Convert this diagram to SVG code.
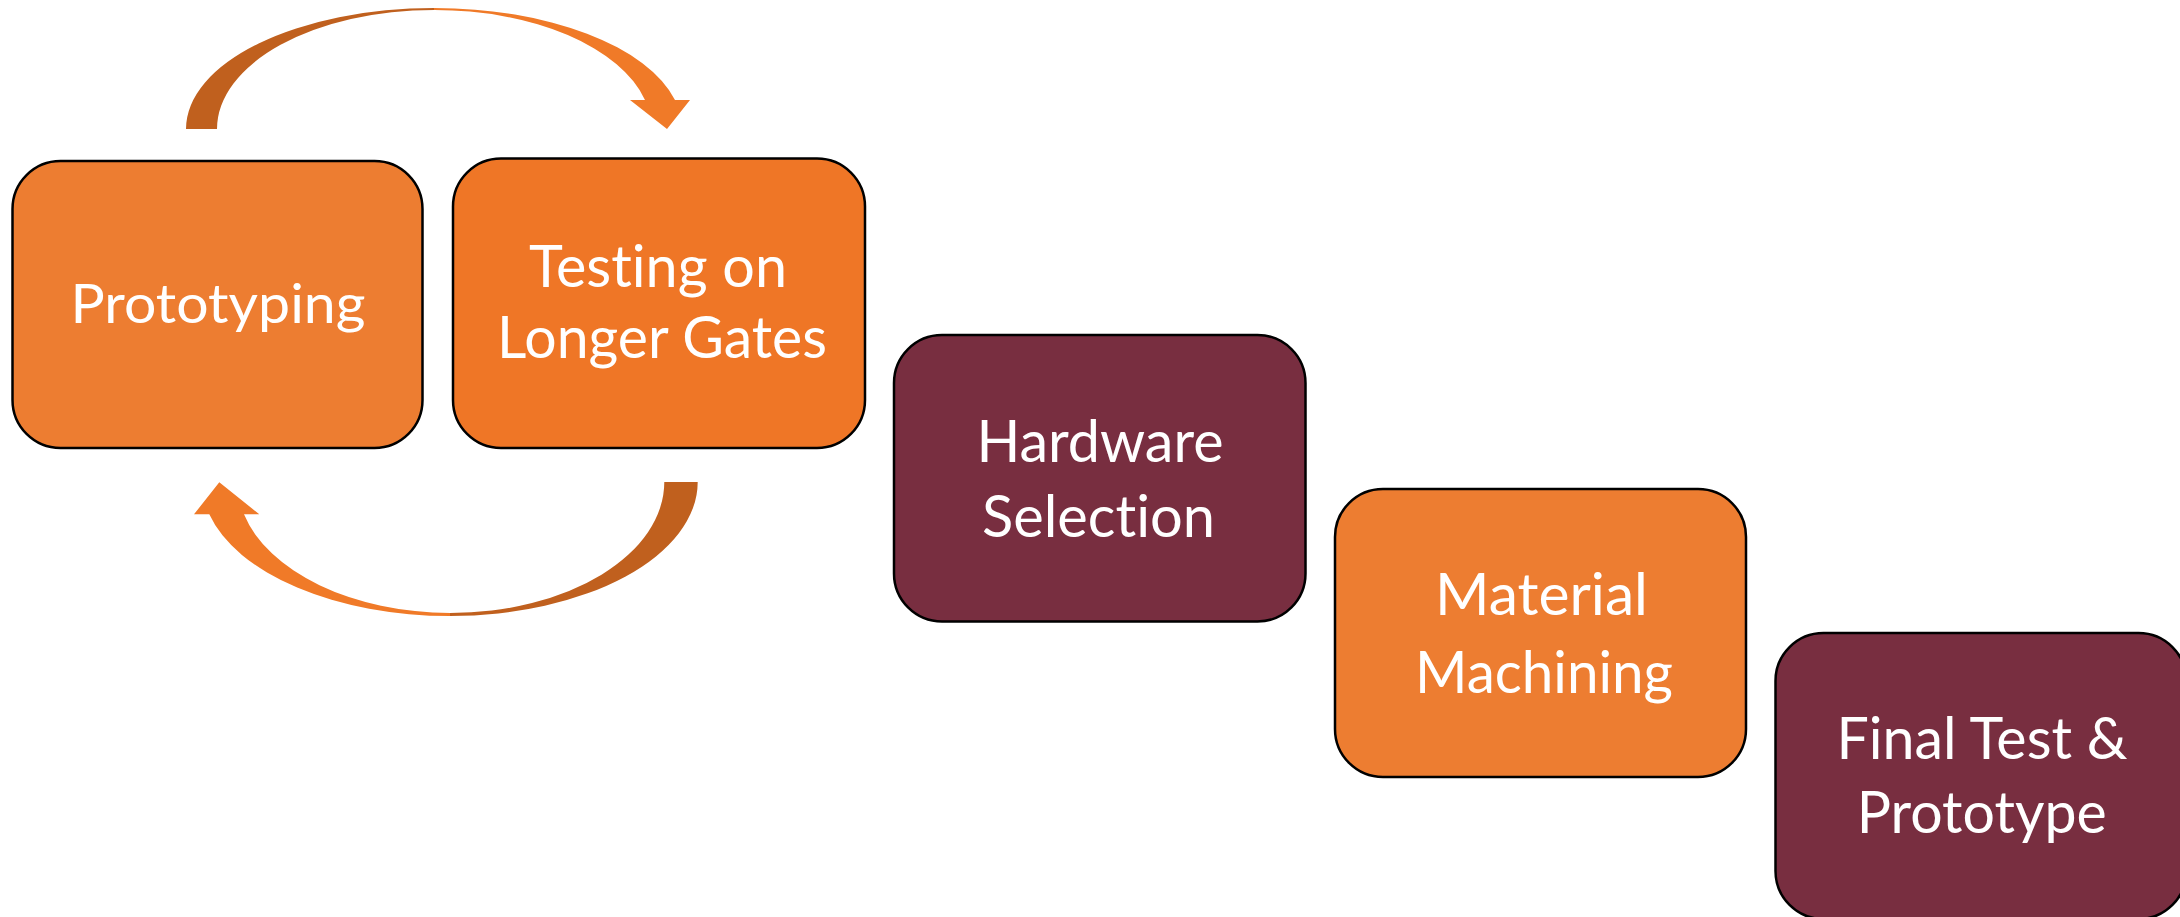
<svg xmlns="http://www.w3.org/2000/svg" width="2180" height="917" viewBox="0 0 2180 917">
<style>
  .box { stroke: #000; stroke-width: 2.5; }
  .orange { fill: #ED7D31; }
  .orange2 { fill: #EF7626; }
  .maroon { fill: #782E40; }
  .lbl { font-family: Lato, "Open Sans", "Liberation Sans", sans-serif; font-size: 58px; fill: #FFFFFF; text-anchor: middle; font-variant-ligatures: none; font-feature-settings: "liga" 0, "clig" 0, "dlig" 0; }
  .back { fill: #C0601E; }
  .front { fill: #F07A28; }
</style>
<g id="connectors">
  <path class="back" d="M186,129 A248,121 0 0 1 434,8 L434,10 A217,119 0 0 0 217,129 Z"/>
  <path class="front" d="M434,8 A248,121 0 0 1 675,100 L690,100 L667,129 L630,100 L645,100 A217,119 0 0 0 434,10 Z"/>
  <path class="back" d="M697.7,482 A248,134 0 0 1 450,616 L450,613 A214,131 0 0 0 664.3,482 Z"/>
  <path class="front" d="M450,616 A248,134 0 0 1 209.3,514.3 L194,514.3 L219.3,482.3 L259.3,514.3 L244,514.3 A214,131 0 0 0 450,613 Z"/>
</g>
<g id="node-prototyping">
  <rect class="box orange" x="12.5" y="161" width="410" height="287" rx="48" ry="48"/>
  <text class="lbl" x="218" y="323" style="font-size:53.5px" textLength="295" lengthAdjust="spacingAndGlyphs">Prototyping</text>
</g>
<g id="node-testing">
  <rect class="box orange2" x="453" y="158.5" width="412" height="289.5" rx="48" ry="48"/>
  <text class="lbl" x="658" y="287" textLength="258" lengthAdjust="spacingAndGlyphs">Testing on</text>
  <text class="lbl" x="662" y="358" textLength="330" lengthAdjust="spacingAndGlyphs">Longer Gates</text>
</g>
<g id="node-hardware">
  <rect class="box maroon" x="894" y="335" width="411.5" height="286.5" rx="48" ry="48"/>
  <text class="lbl" x="1100" y="462" textLength="247" lengthAdjust="spacingAndGlyphs">Hardware</text>
  <text class="lbl" x="1098.5" y="537" textLength="233" lengthAdjust="spacingAndGlyphs">Selection</text>
</g>
<g id="node-material">
  <rect class="box orange" x="1335" y="489" width="411" height="288" rx="48" ry="48"/>
  <text class="lbl" x="1541.5" y="615" textLength="213" lengthAdjust="spacingAndGlyphs">Material</text>
  <text class="lbl" x="1544" y="693" textLength="258" lengthAdjust="spacingAndGlyphs">Machining</text>
</g>
<g id="node-final">
  <rect class="box maroon" x="1775.5" y="633" width="411" height="286" rx="48" ry="48"/>
  <text class="lbl" x="1982" y="759" textLength="291" lengthAdjust="spacingAndGlyphs">Final Test &amp;</text>
  <text class="lbl" x="1981.7" y="833" textLength="250" lengthAdjust="spacingAndGlyphs">Prototype</text>
</g>
</svg>
